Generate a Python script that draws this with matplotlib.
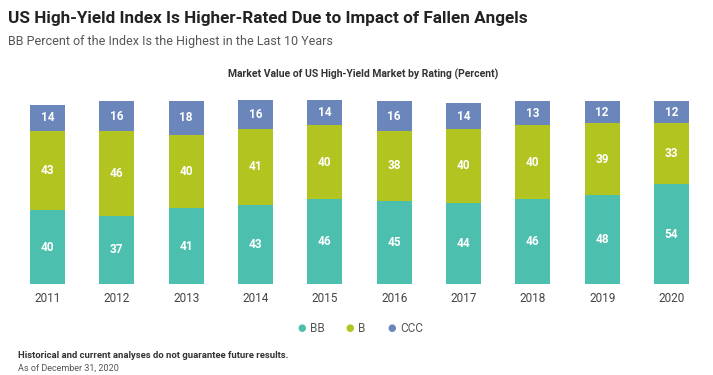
import matplotlib
matplotlib.use("Agg")
import matplotlib.pyplot as plt
import numpy as np

years = ["2011", "2012", "2013", "2014", "2015", "2016", "2017", "2018", "2019", "2020"]
bb = [40, 37, 41, 43, 46, 45, 44, 46, 48, 54]
b = [43, 46, 40, 41, 40, 38, 40, 40, 39, 33]
ccc = [14, 16, 18, 16, 14, 16, 14, 13, 12, 12]
series_names = ["BB", "B", "CCC"]
colors = ["#4dbfae", "#b2c41f", "#6a86bb"]

plt.rcParams['font.family'] = ['Roboto', 'DejaVu Sans']

W, H = 713, 375
fig = plt.figure(figsize=(W / 100, H / 100), dpi=100)
ax = fig.add_axes([12.8 / W, (H - 284) / H, (706.2 - 12.8) / W, 184.5 / H])

x = np.arange(len(years))
width = 0.505
bottom = np.zeros(len(years))
for vals, c in zip([bb, b, ccc], colors):
    vals = np.array(vals)
    ax.bar(x, vals, width, bottom=bottom, color=c, edgecolor='none')
    for xi, v, bt in zip(x, vals, bottom):
        ax.text(xi, bt + v / 2, str(v), ha='center', va='center', color='white',
                fontsize=8.5, fontweight='bold')
    bottom += vals

ax.set_xlim(-0.5, len(years) - 0.5)
ax.set_ylim(0, 100)
ax.set_xticks(x)
ax.set_xticklabels(years, fontsize=8.5, color='#444444')
ax.tick_params(axis='x', length=0, pad=6)
ax.set_yticks([])
for s in ax.spines.values():
    s.set_visible(False)

def fy(py):
    return 1 - py / H

def fx(px):
    return px / W

fig.text(fx(8), fy(18), "US High-Yield Index Is Higher-Rated Due to Impact of Fallen Angels",
         fontsize=12.3, fontweight='bold', color='#222222', ha='left', va='center')
fig.text(fx(8), fy(41), "BB Percent of the Index Is the Highest in the Last 10 Years",
         fontsize=9, color='#555555', ha='left', va='center')
fig.text(fx(363), fy(74), "Market Value of US High-Yield Market by Rating (Percent)",
         fontsize=7.5, fontweight='bold', color='#333333', ha='center', va='center')

# legend
leg_x = [302, 350, 392]
for px, name, c in zip(leg_x, series_names, colors):
    fig.text(fx(px), fy(328), "\u25CF", color=c, fontsize=7, ha='center', va='center',
             family='DejaVu Sans')
    fig.text(fx(px + 8), fy(328), name, color='#555555', fontsize=8.5, ha='left', va='center')

fig.text(fx(18), fy(356), "Historical and current analyses do not guarantee future results.",
         fontsize=6.8, fontweight='bold', color='#333333', ha='left', va='center')
fig.text(fx(18), fy(368), "As of December 31, 2020",
         fontsize=6.5, color='#555555', ha='left', va='center')

fig.savefig("out.png", dpi=100)
